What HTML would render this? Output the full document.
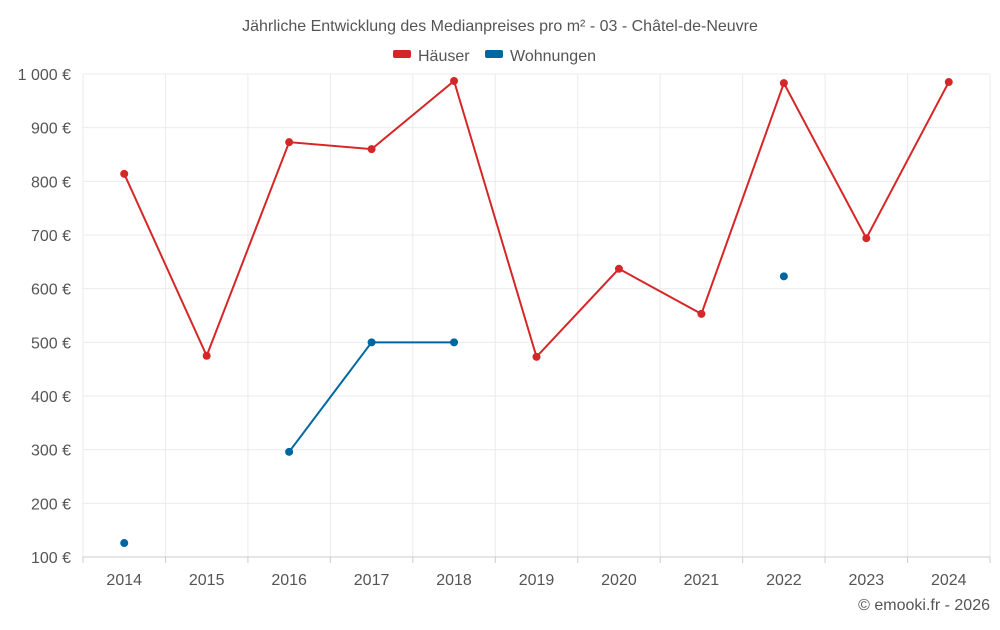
<!DOCTYPE html>
<html><head><meta charset="utf-8">
<style>
html,body{margin:0;padding:0;background:#fff;}
body{width:1000px;height:625px;overflow:hidden;font-family:"Liberation Sans",sans-serif;}
svg text{font-family:"Liberation Sans",sans-serif;}
</style></head>
<body>
<svg id="chart" width="1000" height="625">
  <text x="500" y="31" text-anchor="middle" font-size="16" fill="#555">Jährliche Entwicklung des Medianpreises pro m² - 03 - Châtel-de-Neuvre</text>
  <g>
    <g>
      <rect x="393" y="50" width="18" height="8" rx="2" fill="#d62728"/>
      <text x="418" y="61" font-size="16" fill="#555">Häuser</text>
    </g>
    <g>
      <rect x="485" y="50" width="18" height="8" rx="2" fill="#0066a1"/>
      <text x="510" y="61" font-size="16" fill="#555">Wohnungen</text>
    </g>
  </g>
  <g id="grid"></g>
  <g id="axes"></g>
  <g id="series"></g>
  <text x="990" y="610" text-anchor="end" font-size="16" fill="#555">© emooki.fr - 2026</text>
</svg>
<script>
const years = [2014,2015,2016,2017,2018,2019,2020,2021,2022,2023,2024];
const haeuser = [814,475,873,860,987,473,637,553,983,694,985];
const wohnungen = [126,null,296,500,500,null,null,null,623,null,null];
const yTicks = [100,200,300,400,500,600,700,800,900,1000];
const yTickLabels = ["100 €","200 €","300 €","400 €","500 €","600 €","700 €","800 €","900 €","1 000 €"];

const L=83,R=990,T=74,B=557,yMin=100,yMax=1000;
const step=(R-L)/years.length;
const xs=i=>L+step*(i+0.5);
const ys=v=>B-(v-yMin)/(yMax-yMin)*(B-T);
const NS="http://www.w3.org/2000/svg";
function mk(tag,attrs,parent){const e=document.createElementNS(NS,tag);for(const k in attrs)e.setAttribute(k,attrs[k]);parent.appendChild(e);return e;}
const grid=document.getElementById('grid'),axes=document.getElementById('axes'),series=document.getElementById('series');

yTicks.forEach((v,i)=>{
  const ln=mk('line',{x1:L,x2:R,y1:ys(v),y2:ys(v),stroke:'#ebebeb','stroke-width':1},grid);
  
  
  const t=mk('text',{x:L-12,y:ys(v)+6,'text-anchor':'end','font-size':16,fill:'#555'},axes);
  t.textContent=yTickLabels[i];
  
  
});
for(let i=0;i<=years.length;i++){
  const x=L+step*i;
  const ln=mk('line',{x1:x,x2:x,y1:T,y2:B,stroke:'#ebebeb','stroke-width':1},grid);
  
  
  const tk=mk('line',{x1:x,x2:x,y1:B,y2:B+6,stroke:'#ccc','stroke-width':1},axes);
  
  
}
const ax=mk('line',{x1:L,x2:R,y1:B,y2:B,stroke:'#ccc','stroke-width':1},axes);


years.forEach((y,i)=>{
  const t=mk('text',{x:xs(i),y:B+28,'text-anchor':'middle','font-size':16,fill:'#555'},axes);
  t.textContent=y;
  
  
});

function drawSeries(vals,color,name){
  let seg=[];
  const segs=[];
  vals.forEach((v,i)=>{ if(v==null){ if(seg.length)segs.push(seg); seg=[]; } else seg.push([xs(i),ys(v)]); });
  if(seg.length)segs.push(seg);
  segs.forEach(s=>{
    if(s.length>1){
      const p=mk('polyline',{points:s.map(q=>q.join(',')).join(' '),fill:'none',stroke:color,'stroke-width':2},series);
      
      
    }
  });
  vals.forEach((v,i)=>{
    if(v==null)return;
    const c=mk('circle',{cx:xs(i),cy:ys(v),r:4,fill:color},series);
    
    
  });
}
drawSeries(haeuser,'#d62728','haeuser');
drawSeries(wohnungen,'#0066a1','wohnungen');
</script>
</body></html>
